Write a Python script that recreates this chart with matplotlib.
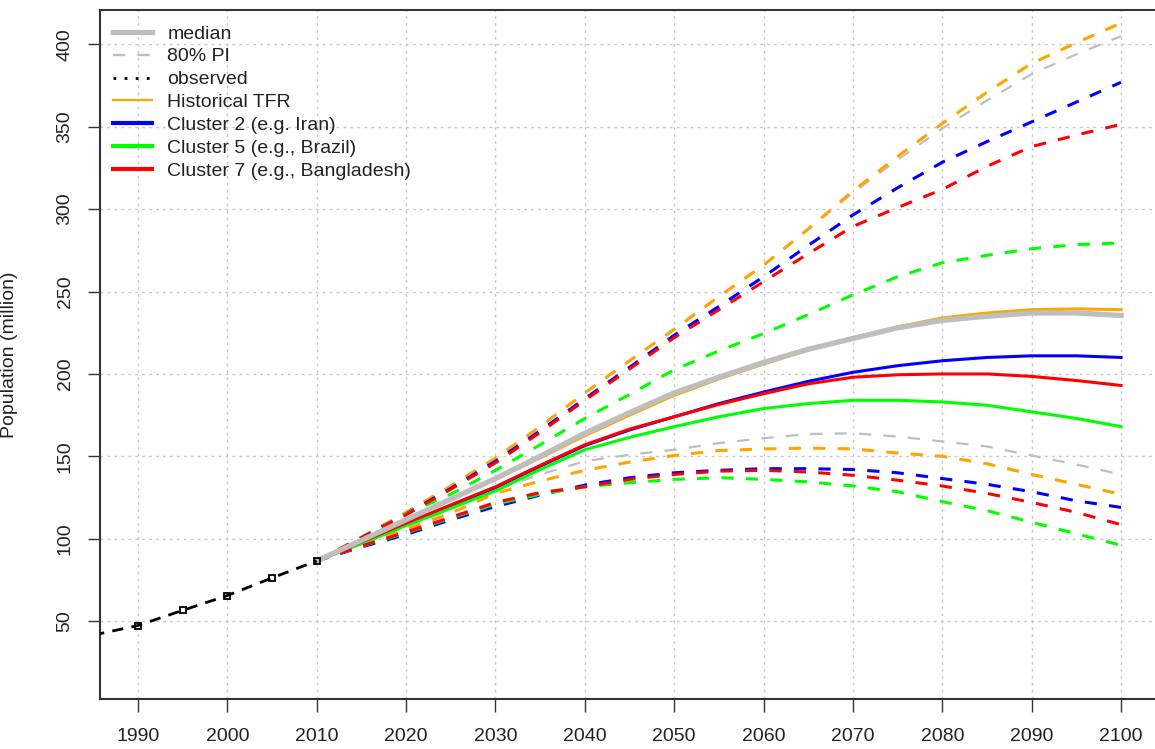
import numpy as np
import matplotlib
matplotlib.use("Agg")
import matplotlib.pyplot as plt
from matplotlib.lines import Line2D

plt.rcParams['font.family'] = ['Liberation Sans', 'DejaVu Sans']

# observed population (million)
obs_years = [1985, 1990, 1995, 2000, 2005, 2010]
obs_pop = [41.5, 47.3, 56.5, 65.5, 76.2, 86.5]

# projection years
years = [2010, 2015, 2020, 2025, 2030, 2035, 2040, 2045, 2050, 2055,
         2060, 2065, 2070, 2075, 2080, 2085, 2090, 2095, 2100]

# default projection (gray)
gray_med = [86.5, 99, 111.5, 124, 136.5, 150, 164, 176.5, 188.5, 198,
            207, 215, 221.5, 228, 232.5, 235, 237, 237, 235.5]
gray_hi = [86.5, 101, 116, 132, 149, 168, 188.5, 208, 227.5, 247,
           266, 288, 310, 330, 349, 366, 382, 394, 405]
gray_lo = [86.5, 97, 106.5, 118, 129.5, 139, 147, 151, 154, 158,
           161, 163.5, 164, 162, 159, 156, 150.5, 145, 139]

# Historical TFR (orange)
hist_med = [86.5, 98.5, 111, 123.5, 136, 149, 162.5, 175, 187, 197,
            206, 214.5, 222, 228.5, 234, 237, 239, 239.5, 239]
hist_hi = [86.5, 101, 116, 132, 149, 168, 188.5, 208, 227, 247,
           266, 288, 311, 332, 352, 371, 388.5, 401, 413]
hist_lo = [86.5, 96.5, 105.5, 115.5, 127.5, 135, 141.5, 146.5, 150.5, 153.5,
           154.5, 155, 154.5, 152, 150, 145.5, 139, 133, 127]

# Cluster 2 (blue)
c2_med = [86.5, 97.5, 109, 120, 131, 144, 156.5, 166, 174, 182,
          189, 195.5, 201, 205, 208, 210, 211, 211, 210]
c2_hi = [86.5, 100.5, 115, 130.5, 147, 165.5, 185, 204, 223.5, 241,
         259, 278, 296.5, 313, 328.5, 341, 353, 365, 377]
c2_lo = [86.5, 95, 102.5, 111.5, 119.5, 126.5, 132.5, 137, 140, 141.5,
         142.5, 142.5, 142, 140, 136.5, 133, 128.5, 123, 119]

# Cluster 5 (green)
c5_med = [86.5, 97, 108, 118.5, 129, 142, 154, 161.5, 168, 174,
          179, 182, 184, 184, 183, 181, 177, 173, 168]
c5_hi = [86.5, 100, 115, 127, 141.5, 157, 173, 187.5, 202.5, 214,
         224.5, 236, 248, 259, 267.5, 272, 276, 278.5, 279.5]
c5_lo = [86.5, 95.5, 103.5, 112.5, 121, 127, 131.5, 134, 136, 137,
         136, 134.5, 132, 128.5, 122.5, 117, 110, 103, 96]

# Cluster 7 (red)
c7_med = [86.5, 98, 109.5, 120.5, 131.5, 144.5, 157, 166.5, 174, 181.5,
          188, 194, 198, 199.5, 200, 200, 198.5, 196, 193]
c7_hi = [86.5, 100.5, 114.5, 130, 146, 164.5, 184, 203, 222, 239,
         256, 273, 289.5, 301, 312, 326, 338, 345, 351.5]
c7_lo = [86.5, 95.5, 104, 113, 122, 128, 131.5, 136, 139, 141,
         141.5, 140.5, 138.5, 135.5, 132, 127.5, 122, 116, 108.5]

xticks = list(range(1990, 2101, 10))
yticks = list(range(50, 401, 50))

fig = plt.figure(figsize=(11.55, 7.49), dpi=100)
ax = fig.add_axes([100 / 1155, 50 / 749, 1055 / 1155, 689 / 749])

dash = (0, (4, 4))
lw_med = 2.2
lw_pi = 2.2

# grid
for x in xticks:
    ax.axvline(x, color='#c8c8c8', lw=1, ls=(0, (2, 3)), zorder=0)
for y in yticks:
    ax.axhline(y, color='#c8c8c8', lw=1, ls=(0, (2, 3)), zorder=0)

# scenario lines
series = [
    ('orange', hist_med, hist_hi, hist_lo),
    ('#0000ff', c2_med, c2_hi, c2_lo),
    ('#00ff00', c5_med, c5_hi, c5_lo),
    ('#ff0000', c7_med, c7_hi, c7_lo),
]
ax.plot(years, gray_hi, color='#bebebe', lw=1.6, ls=(0, (5.5, 5.5)), zorder=2)
ax.plot(years, gray_lo, color='#bebebe', lw=1.6, ls=(0, (5.5, 5.5)), zorder=2)
for col, med, hi, lo in series:
    ax.plot(years, hi, color=col, lw=lw_pi, ls=dash, zorder=3)
    ax.plot(years, lo, color=col, lw=lw_pi, ls=dash, zorder=3)
    ax.plot(years, med, color=col, lw=lw_med, zorder=3)
ax.plot(years, gray_med, color='#bebebe', lw=3.8, zorder=4)

# observed
ax.plot(obs_years, obs_pop, color='black', lw=2, ls=(0, (4, 3)),
        marker='s', ms=5, mfc='none', mec='black', mew=1.3, zorder=5)

ax.set_xlim(1985.75, 2103.8)
ax.set_ylim(2.7, 420.9)
ax.set_xticks(xticks)
ax.set_yticks(yticks)
ax.tick_params(axis='both', length=9, width=1, color='#333333',
               labelsize=14, labelcolor='#222222')
ax.tick_params(axis='x', pad=12)
ax.tick_params(axis='y', pad=10)
for lab in ax.get_yticklabels():
    lab.set_rotation(90)
    lab.set_va('center')
for s in ['left', 'bottom', 'top']:
    ax.spines[s].set_color('#333333')
    ax.spines[s].set_linewidth(1.5)
ax.spines['right'].set_visible(False)

ax.set_ylabel('Population (million)', fontsize=14, color='#222222')
ax.yaxis.set_label_coords(-0.0777, 0.5)

# legend
handles = [
    Line2D([], [], color='#bebebe', lw=3.8),
    Line2D([], [], color='#bebebe', lw=1.6, ls=(0, (5.5, 5.5))),
    Line2D([], [], color='black', lw=2, ls=(0, (1, 3))),
    Line2D([], [], color='orange', lw=1.6),
    Line2D([], [], color='#0000ff', lw=3),
    Line2D([], [], color='#00ff00', lw=3),
    Line2D([], [], color='#ff0000', lw=3),
]
labels = ['median', '80% PI', 'observed', 'Historical TFR',
          'Cluster 2 (e.g. Iran)', 'Cluster 5 (e.g., Brazil)',
          'Cluster 7 (e.g., Bangladesh)']
ax.legend(handles, labels, loc='upper left',
          bbox_to_anchor=(13 / 1055, (699 - 25) / 689), frameon=False,
          fontsize=14, handlelength=2.0, handletextpad=0.8,
          labelspacing=0.27, borderpad=0, borderaxespad=0,
          labelcolor='#222222')

fig.savefig('out.png', dpi=100)
